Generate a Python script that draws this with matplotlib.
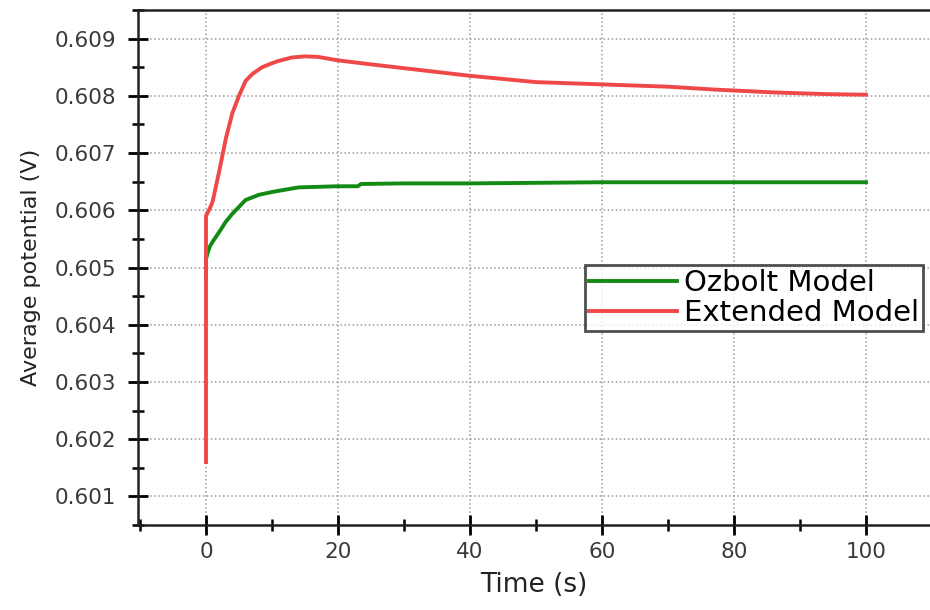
import matplotlib
matplotlib.use("Agg")
import matplotlib.pyplot as plt
from matplotlib.ticker import MultipleLocator, FormatStrFormatter

# Ozbolt model
t_ozbolt = [0, 0, 0.3, 0.6, 1, 2, 3, 4, 5, 6, 8, 10, 12, 14, 17, 20, 23, 23.5, 30, 40, 50, 60, 70, 80, 90, 100]
v_ozbolt = [0.60485, 0.60514, 0.60528, 0.60537, 0.60545, 0.60562, 0.60580, 0.60594, 0.60606,
            0.60618, 0.60627, 0.60632, 0.60636, 0.60640, 0.60641, 0.60642, 0.60642, 0.60646,
            0.60647, 0.60647, 0.60648, 0.60649, 0.60649, 0.60649, 0.60649, 0.60649]

# Extended model
t_ext = [0, 0, 0.6, 1, 2, 3, 4, 5, 6, 7, 8.5, 10, 11, 13, 15, 17, 20, 25, 34, 40, 50, 60, 70,
         77, 86, 94, 100]
v_ext = [0.60160, 0.60590, 0.60604, 0.60615, 0.60668, 0.60725, 0.60770, 0.60800, 0.60826,
         0.60838, 0.60850, 0.60857, 0.60861, 0.60867, 0.60869, 0.60868, 0.60862, 0.60855,
         0.60843, 0.60835, 0.60824, 0.60820, 0.60816, 0.60811, 0.60806, 0.60803, 0.60802]

plt.rcParams['font.family'] = ['DejaVu Sans']

fig = plt.figure(figsize=(9.3, 6.1), dpi=100)
ax = fig.add_axes([0.1484, 0.1393, 0.8516, 0.8443])

ax.plot(t_ozbolt, v_ozbolt, color="#138a13", lw=2.8, label="Ozbolt Model")
ax.plot(t_ext, v_ext, color="#f04848", lw=2.8, label="Extended Model")

ax.set_xlim(-10.3, 109.7)
ax.set_ylim(0.6005, 0.6095)
ax.xaxis.set_major_locator(MultipleLocator(20))
ax.xaxis.set_minor_locator(MultipleLocator(10))
ax.yaxis.set_major_locator(MultipleLocator(0.001))
ax.yaxis.set_minor_locator(MultipleLocator(0.0005))
ax.yaxis.set_major_formatter(FormatStrFormatter("%.3f"))

ax.tick_params(which="major", direction="inout", length=15, width=2, labelsize=15.5,
               labelcolor="#3a3a3a", pad=5)
ax.tick_params(axis="y", which="major", pad=8)
ax.tick_params(which="minor", direction="inout", length=8, width=1.8)
ax.spines["right"].set_visible(False)
for s in ax.spines.values():
    s.set_linewidth(1.8)
    s.set_color("#222222")

ax.grid(True, which="major", ls=":", color="#9a9a9a", lw=1.1)

ax.set_xlabel("Time (s)", fontsize=19, color="#222222", labelpad=7)
ax.set_ylabel("Average potential (V)", fontsize=16, color="#222222", labelpad=10)

leg = ax.legend(loc="upper left", bbox_to_anchor=(0.564, 0.505), fontsize=21, frameon=True,
                fancybox=False, edgecolor="#222222", handlelength=3, borderpad=0.15,
                labelspacing=0.05, handletextpad=0.25, borderaxespad=0)
leg.get_frame().set_linewidth(2)

fig.savefig("out.png", dpi=100)
